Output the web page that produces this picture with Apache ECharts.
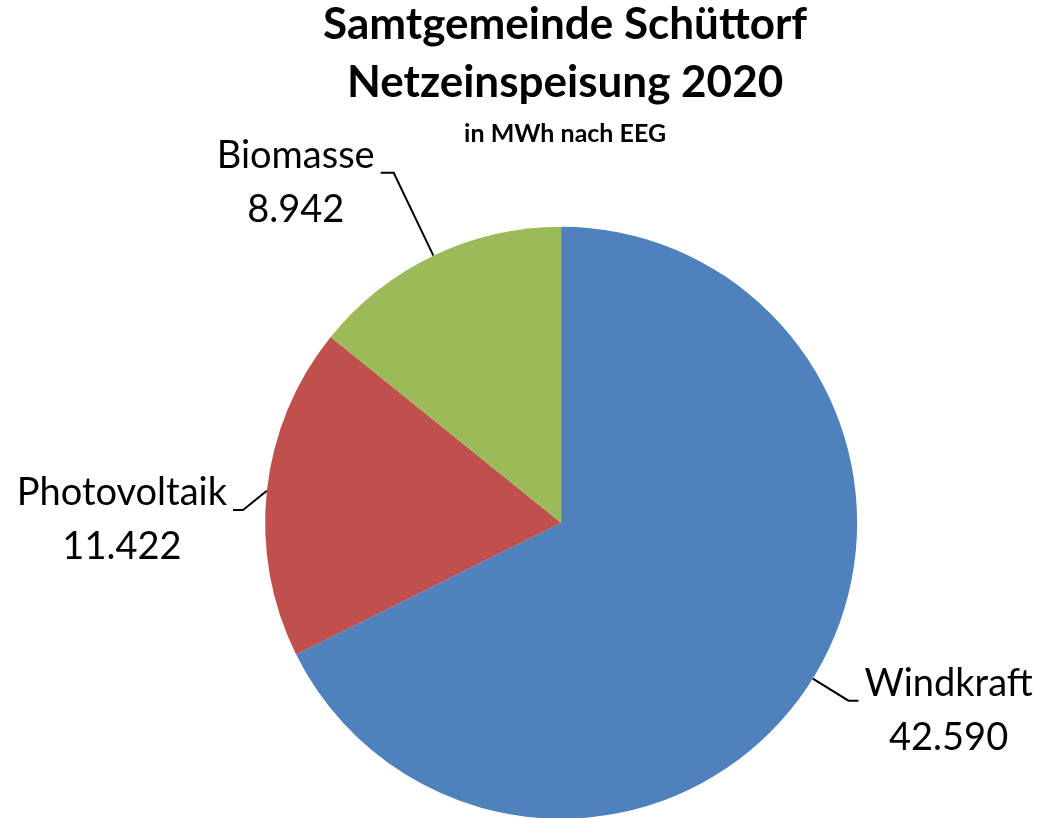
<!DOCTYPE html>
<html>
<head>
<meta charset="utf-8">
<script src="https://cdn.jsdelivr.net/npm/echarts@6/dist/echarts.min.js"></script>
<style>
  html, body { margin: 0; padding: 0; background: #fff; }
  #chart { width: 1043px; height: 818px; }
</style>
</head>
<body>
<div id="chart"></div>
<script>
var categories = ['Windkraft', 'Photovoltaik', 'Biomasse'];
var values = [42590, 11422, 8942];
var colors = ['#4F81BD', '#C0504D', '#9BBB59'];
// Leader line lengths per slice (radial part, horizontal part)
var lineLen = [42, 24, 92];
var lineLen2 = [10, 10, 13];
// vertical nudge of the label (Excel does not draw radial leaders)
var labelDy = [0, 22, 0];

var myChart = echarts.init(document.getElementById('chart'));

// 42590 -> 42.590 (German thousands separator)
function fmt(v) {
    return String(v).replace(/\B(?=(\d{3})+(?!\d))/g, '.');
}

var seriesData = categories.map(function (name, i) {
    return {
        name: name,
        value: values[i],
        itemStyle: { color: colors[i] },
        labelLine: { length: lineLen[i], length2: lineLen2[i] }
    };
});

var option = {
    animation: false,
    title: {
        text: 'Samtgemeinde Schüttorf\nNetzeinspeisung 2020',
        subtext: 'in MWh nach EEG',
        left: '53.7%',
        textAlign: 'center',
        top: -9,
        itemGap: 9,
        textStyle: {
            fontFamily: 'Lato',
            fontWeight: 'bold',
            fontSize: 44,
            lineHeight: 58,
            color: '#000'
        },
        subtextStyle: {
            fontFamily: 'Lato',
            fontWeight: 'bold',
            fontSize: 25,
            lineHeight: 26,
            color: '#000'
        }
    },
    series: [
        {
            type: 'pie',
            center: ['53.8%', '63.9%'],
            radius: 296,
            startAngle: 90,
            clockwise: true,
            avoidLabelOverlap: false,
            data: seriesData,
            label: {
                show: true,
                position: 'outside',
                formatter: function (p) {
                    return p.name + '\n' + fmt(p.value);
                },
                fontFamily: 'Lato',
                fontSize: 38,
                lineHeight: 54,
                color: '#000'
            },
            labelLine: {
                show: true,
                smooth: false,
                lineStyle: { color: '#000', width: 2 }
            },
            emphasis: { disabled: true }
        }
    ]
};

option.series[0].labelLayout = function (params) {
    var pts = params.labelLinePoints;
    if (!pts) return {};
    var dy = labelDy[params.dataIndex] || 0;
    pts = pts.map(function (p, k) {
        return k === 0 ? [p[0], p[1]] : [p[0], p[1] + dy];
    });
    var end = pts[pts.length - 1];
    var prev = pts[pts.length - 2];
    var right = end[0] >= prev[0];
    var w = params.labelRect.width;
    return {
        x: end[0] + (right ? 6 + w / 2 : -6 - w / 2),
        y: end[1] - 44,
        align: 'center',
        verticalAlign: 'top',
        labelLinePoints: pts
    };
};

myChart.setOption(option);
</script>
</body>
</html>
